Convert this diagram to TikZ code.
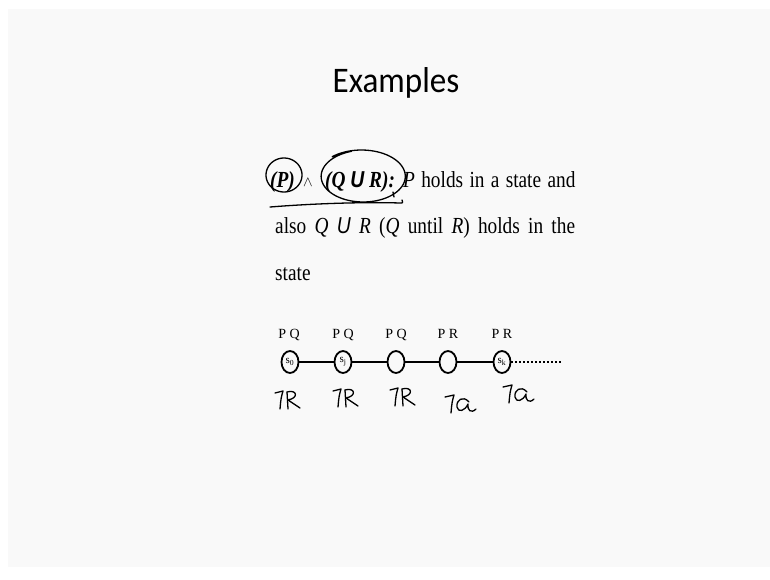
\documentclass[tikz,border=0pt]{standalone}
\usepackage{fontspec}
\usepackage{graphicx}
\setmainfont{Liberation Serif}
\newfontfamily\titlefont{Carlito}
\newfontfamily\sansU{Liberation Sans}
\usetikzlibrary{shapes.geometric}
\definecolor{slidebg}{RGB}{249,249,249}
\newcommand\slidetext{\fontsize{23}{27}\selectfont}
\newcommand\narrow[1]{\scalebox{0.84}[1]{#1}}
\tikzset{
  txt/.style={anchor=base west, inner sep=0pt, font=\slidetext},
  pen/.style={line width=1.3pt, line cap=round, line join=round},
  stnode/.style={ellipse, draw, line width=1.8pt, minimum width=17pt, minimum height=22pt, inner sep=0pt, font=\fontsize{11}{12}\selectfont},
  lbl/.style={anchor=base, inner sep=0pt, font=\fontsize{14}{16}\selectfont},
  edge/.style={line width=1.5pt},
  dots/.style={line width=2.2pt, dash pattern=on 1.6pt off 2.4pt},
  notR/.pic={
    \draw[pen] (0,5) -- (8,3) .. controls (6,10) .. (5,21);
    \draw[pen] (12,4) -- (13,21);
    \draw[pen] (12,4) .. controls (22,1) and (24,10) .. (13,12) -- (25,20);
  },
  notQ/.pic={
    \draw[pen] (0,5) -- (9,3) .. controls (7,10) .. (6,21);
    \draw[pen] (24,10) .. controls (18,3) and (11,8) .. (12,15) .. controls (13,21) and (20,19) .. (23,12) .. controls (22,18) and (26,22) .. (31,17);
  }
}
\begin{document}
\begin{tikzpicture}[x=1pt,y=-1pt]
\useasboundingbox (0,0) rectangle (770,579);
\fill[slidebg] (8,9) rectangle (770,567);
% title
\node[anchor=base, inner sep=0pt, font=\titlefont\fontsize{36}{40}\selectfont] (title) at (396,92) {\scalebox{0.92}[1]{Examples}};
% line 1
\node[txt] (p) at (270,187) {\narrow{\textbf{\textit{(P)}}}};
\node[anchor=base west, inner sep=0pt, font=\fontsize{14}{16}\selectfont] (andsym) at (303,186) {$\wedge$};
\node[txt] (qur) at (325,187) {\narrow{\textbf{\textit{(Q {\sansU U} R):}}}};
\node[txt] (l1) at (403,187) {\narrow{\makebox[205pt][s]{\textit{P} holds in a state and}}};
% line 2
\node[txt] (l2) at (275,233) {\narrow{\makebox[357pt][s]{also \textit{Q} {\sansU\itshape U} \textit{R} (\textit{Q} until \textit{R}) holds in the}}};
% line 3
\node[txt] (l3) at (275,280) {\narrow{state}};
% handwritten marks
\draw[pen] plot[smooth, domain=-70:300, samples=60] ({284+18*cos(\x)},{175+17*sin(\x)});
\draw[pen] plot[smooth, domain=228:612, samples=80] ({361+43*cos(\x)+0.01*(\x-228)},{176+26*sin(\x)});
\draw[pen] (270,207) .. controls (320,203) and (370,202) .. (400,203) .. controls (403,203) .. (402,200);
\draw[pen] (393,192) -- (394,197);
% chain
\node[stnode] (s0) at (290,362) {s\textsubscript{0}};
\node[stnode] (s1) at (343,362) {s\textsubscript{j}};
\node[stnode] (s2) at (396,362) {};
\node[stnode] (s3) at (448,362) {};
\node[stnode] (s4) at (502,362) {s\textsubscript{k}};
\coordinate (dend) at (561,362);
\draw[edge] (s0) -- (s1);
\draw[edge] (s1) -- (s2);
\draw[edge] (s2) -- (s3);
\draw[edge] (s3) -- (s4);
\draw[dots] (s4) -- (dend);
\node[lbl] (t0) at (289,338) {P Q};
\node[lbl] (t1) at (343,338) {P Q};
\node[lbl] (t2) at (396,338) {P Q};
\node[lbl] (t3) at (448,338) {P R};
\node[lbl] (t4) at (502,338) {P R};
% handwritten annotations
\pic at (275,388) {notR};
\pic at (333,386) {notR};
\pic at (390,385) {notR};
\pic at (445,392) {notQ};
\pic at (503,382) {notQ};
\end{tikzpicture}
\end{document}
